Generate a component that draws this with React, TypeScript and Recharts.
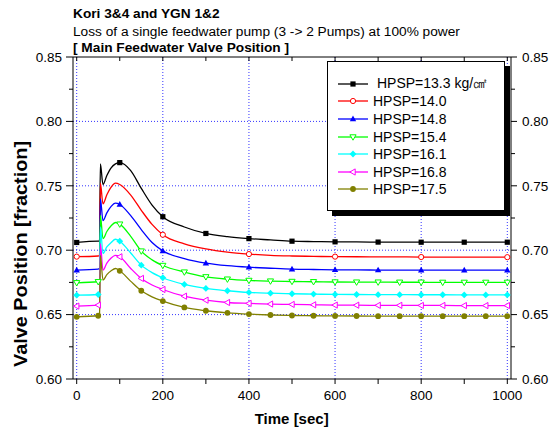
import React from 'react';
import { LineChart, Line, XAxis, YAxis, ReferenceLine, Legend } from 'recharts';

// time [sec]
const time = [0, 50, 53, 55, 61, 70, 80, 90, 100, 125, 150, 175, 200, 250, 300, 350, 400, 450, 500, 550, 600, 650, 700, 750, 800, 850, 900, 950, 1000];

// valve position [fraction], one list per HPSP setpoint
const hpsp133 = [0.706, 0.707, 0.707, 0.767, 0.751, 0.758, 0.764, 0.767, 0.768, 0.762, 0.748, 0.735, 0.726, 0.718, 0.713, 0.7105, 0.709, 0.708, 0.707, 0.7067, 0.7065, 0.7064, 0.7063, 0.7063, 0.7062, 0.7062, 0.7062, 0.7062, 0.7062];
const hpsp140 = [0.695, 0.6955, 0.696, 0.752, 0.736, 0.743, 0.749, 0.752, 0.751, 0.743, 0.731, 0.72, 0.712, 0.705, 0.701, 0.6985, 0.697, 0.696, 0.6955, 0.6952, 0.695, 0.6949, 0.6948, 0.6948, 0.6947, 0.6947, 0.6946, 0.6946, 0.6946];
const hpsp148 = [0.6845, 0.6853, 0.686, 0.74, 0.723, 0.729, 0.734, 0.7365, 0.7355, 0.727, 0.716, 0.706, 0.6995, 0.6935, 0.69, 0.688, 0.6868, 0.686, 0.6853, 0.685, 0.6848, 0.6847, 0.6846, 0.6846, 0.6845, 0.6845, 0.6845, 0.6845, 0.6845];
const hpsp154 = [0.6747, 0.6755, 0.676, 0.727, 0.709, 0.7145, 0.719, 0.7215, 0.7202, 0.711, 0.6993, 0.6925, 0.6881, 0.683, 0.6793, 0.6775, 0.6765, 0.676, 0.6757, 0.6755, 0.6753, 0.6752, 0.6752, 0.6751, 0.6751, 0.675, 0.675, 0.675, 0.675];
const hpsp161 = [0.6651, 0.6656, 0.666, 0.718, 0.6975, 0.7025, 0.706, 0.7085, 0.707, 0.698, 0.6884, 0.6826, 0.6786, 0.6734, 0.6703, 0.6685, 0.6672, 0.6666, 0.6662, 0.6659, 0.6657, 0.6656, 0.6655, 0.6655, 0.6654, 0.6654, 0.6653, 0.6653, 0.6653];
const hpsp168 = [0.6566, 0.6574, 0.658, 0.705, 0.6845, 0.69, 0.694, 0.696, 0.6949, 0.686, 0.6781, 0.673, 0.6695, 0.6643, 0.6612, 0.6594, 0.6587, 0.6582, 0.6579, 0.6576, 0.6574, 0.6573, 0.6572, 0.6572, 0.6571, 0.6571, 0.657, 0.657, 0.657];
const hpsp175 = [0.6483, 0.6491, 0.65, 0.696, 0.6768, 0.681, 0.684, 0.6858, 0.684, 0.676, 0.6685, 0.6638, 0.6605, 0.6556, 0.653, 0.6514, 0.6504, 0.6497, 0.6493, 0.6491, 0.649, 0.6489, 0.6488, 0.6488, 0.6488, 0.6488, 0.6488, 0.6488, 0.6488];

const seriesNames = ['HPSP=13.3 kg/㎠', 'HPSP=14.0', 'HPSP=14.8', 'HPSP=15.4', 'HPSP=16.1', 'HPSP=16.8', 'HPSP=17.5'];
const seriesValues = [hpsp133, hpsp140, hpsp148, hpsp154, hpsp161, hpsp168, hpsp175];
const COLORS = ['#000000', '#ff0000', '#0000ff', '#00ff00', '#00ffff', '#ff00ff', '#808000'];
const MARKERS = ['square', 'circle-open', 'tri-up', 'tri-down-open', 'diamond', 'tri-left-open', 'circle'];
const markerEvery = [100, 200, 100, 50, 50, 50, 50];

const xTicks = [0, 100, 200, 300, 400, 500, 600, 700, 800, 900, 1000];
const xGrid = [0, 200, 400, 600, 800, 1000];
const yTicks = [0.6, 0.625, 0.65, 0.675, 0.7, 0.725, 0.75, 0.775, 0.8, 0.825, 0.85];
const yGrid = [0.65, 0.7, 0.75, 0.8];

const data = time.map((t, i) => {
  const row: Record<string, number> = { t };
  seriesValues.forEach((s, k) => (row['s' + k] = s[i]));
  return row;
});

const FONT = '"Liberation Sans", Arial, sans-serif';
const isMajor = (v: number) => Math.round(v * 1000) % 50 === 0;

const Marker = ({ kind, x, y, color }: { kind: string; x: number; y: number; color: string }) => {
  switch (kind) {
    case 'square':
      return <rect x={x - 2.6} y={y - 2.6} width={5.2} height={5.2} fill={color} />;
    case 'circle-open':
      return <circle cx={x} cy={y} r={2.6} fill="#fff" stroke={color} strokeWidth={1} />;
    case 'tri-up':
      return <polygon points={`${x},${y - 3.4} ${x + 3.2},${y + 2.3} ${x - 3.2},${y + 2.3}`} fill={color} />;
    case 'tri-down-open':
      return <polygon points={`${x},${y + 3.2} ${x + 3.1},${y - 2.2} ${x - 3.1},${y - 2.2}`} fill="#fff" stroke={color} strokeWidth={1} />;
    case 'diamond':
      return <polygon points={`${x},${y - 3.4} ${x + 3.4},${y} ${x},${y + 3.4} ${x - 3.4},${y}`} fill={color} />;
    case 'tri-left-open':
      return <polygon points={`${x - 3.2},${y} ${x + 2.2},${y - 3.1} ${x + 2.2},${y + 3.1}`} fill="#fff" stroke={color} strokeWidth={1} />;
    default:
      return <circle cx={x} cy={y} r={2.9} fill={color} />;
  }
};

const makeDot = (k: number) => (props: any) => {
  const { cx, cy, payload, index } = props;
  if (payload.t % markerEvery[k] !== 0) return <g key={`d${k}-${index}`} />;
  return (
    <g key={`d${k}-${index}`}>
      <Marker kind={MARKERS[k]} x={cx} y={cy} color={COLORS[k]} />
    </g>
  );
};

const LeftTick = ({ x, y, payload }: any) => {
  const major = isMajor(payload.value);
  return (
    <g>
      <line x1={x} x2={x - (major ? 7 : 4)} y1={y} y2={y} stroke="#000" />
      {major && (
        <text x={x - 11} y={y} dy="0.35em" textAnchor="end" fontSize={13.5} fill="#000" fontFamily={FONT}>
          {payload.value.toFixed(2)}
        </text>
      )}
    </g>
  );
};

const RightTick = ({ x, y, payload }: any) => {
  const major = isMajor(payload.value);
  return (
    <g>
      <line x1={x} x2={x + (major ? 6 : 4)} y1={y} y2={y} stroke="#000" />
      {major && (
        <text x={x + 11} y={y} dy="0.35em" textAnchor="start" fontSize={13.5} fill="#000" fontFamily={FONT}>
          {payload.value.toFixed(2)}
        </text>
      )}
    </g>
  );
};

const BottomTick = ({ x, y, payload }: any) => (
  <g>
    <line x1={x} x2={x} y1={y} y2={y + 5} stroke="#000" />
    {payload.value % 200 === 0 && (
      <text x={x} y={y + 21} textAnchor="middle" fontSize={13.5} fill="#000" fontFamily={FONT}>
        {payload.value}
      </text>
    )}
  </g>
);

const TopTick = ({ x, y }: any) => <line x1={x} x2={x} y1={y} y2={y + 4} stroke="#000" />;

const LegendBox = () => (
  <div
    style={{
      width: 178,
      height: 150,
      boxSizing: 'border-box',
      border: '1px solid #000',
      background: '#fff',
      boxShadow: '5px 5px 0 #000',
      paddingTop: 13,
      fontFamily: FONT,
      fontSize: 14,
      color: '#000',
    }}
  >
    {seriesNames.map((name, k) => (
      <div key={name} style={{ display: 'flex', alignItems: 'center', height: 17.6, marginLeft: 10 }}>
        <svg width={30} height={10} style={{ flex: 'none' }}>
          <line x1={0} x2={30} y1={5} y2={5} stroke={COLORS[k]} strokeWidth={1.3} />
          <Marker kind={MARKERS[k]} x={15} y={5} color={COLORS[k]} />
        </svg>
        <span style={{ marginLeft: k === 0 ? 9 : 5, whiteSpace: 'nowrap' }}>{name}</span>
      </div>
    ))}
  </div>
);

export default function App() {
  return (
    <div style={{ position: 'absolute', left: 0, top: 0, width: 557, height: 430, background: '#fff', fontFamily: FONT }}>
      <LineChart width={557} height={430} data={data} margin={{ top: 52, right: 10, bottom: 21, left: 10 }}>
        <XAxis
          dataKey="t"
          type="number"
          domain={[-8.6, 1008.6]}
          ticks={xTicks}
          interval={0}
          tick={BottomTick}
          tickSize={0}
          tickMargin={0}
          tickLine={false}
          height={30}
          stroke="#000"
          allowDataOverflow
        />
        <XAxis
          xAxisId="top"
          orientation="top"
          dataKey="t"
          type="number"
          domain={[-8.6, 1008.6]}
          ticks={xTicks}
          interval={0}
          tick={TopTick}
          tickSize={0}
          tickMargin={0}
          tickLine={false}
          height={5}
          stroke="#000"
          allowDataOverflow
        />
        <YAxis
          type="number"
          domain={[0.6, 0.85]}
          ticks={yTicks}
          interval={0}
          tick={LeftTick}
          tickSize={0}
          tickMargin={0}
          tickLine={false}
          width={63}
          stroke="#000"
          allowDataOverflow
        />
        <YAxis
          yAxisId="right"
          orientation="right"
          type="number"
          domain={[0.6, 0.85]}
          ticks={yTicks}
          interval={0}
          tick={RightTick}
          tickSize={0}
          tickMargin={0}
          tickLine={false}
          width={36}
          stroke="#000"
          allowDataOverflow
        />
        {xGrid.map((v) => (
          <ReferenceLine key={'gx' + v} x={v} stroke="#3333ff" strokeDasharray="1 2" strokeWidth={1} />
        ))}
        {yGrid.map((v) => (
          <ReferenceLine key={'gy' + v} y={v} stroke="#3333ff" strokeDasharray="1 2" strokeWidth={1} />
        ))}
        {seriesNames.map((name, k) => (
          <Line
            key={name}
            name={name}
            dataKey={'s' + k}
            type="monotone"
            stroke={COLORS[k]}
            strokeWidth={1.3}
            dot={makeDot(k)}
            activeDot={false}
            isAnimationActive={false}
          />
        ))}
        <Legend
          layout="vertical"
          align="center"
          verticalAlign="middle"
          content={() => <LegendBox />}
          wrapperStyle={{ left: 327, top: 61, width: 178, height: 150 }}
        />
      </LineChart>
      <svg width={557} height={430} style={{ position: 'absolute', left: 0, top: 0, pointerEvents: 'none' }}>
        <g fontFamily={FONT} fill="#000">
          <text x={73} y={17.5} fontSize={13.7} fontWeight="bold">Kori 3&amp;4 and YGN 1&amp;2</text>
          <text x={73} y={36} fontSize={13.7}>Loss of a single feedwater pump (3 -&gt; 2 Pumps) at 100% power</text>
          <text x={73} y={51.7} fontSize={13.7} fontWeight="bold">[ Main Feedwater Valve Position ]</text>
          <text x={291.7} y={424} fontSize={15} fontWeight="bold" textAnchor="middle">Time [sec]</text>
          <text
            x={0}
            y={0}
            fontSize={17.5}
            fontWeight="bold"
            textAnchor="middle"
            textLength={226}
            lengthAdjust="spacingAndGlyphs"
            transform="translate(27,254) rotate(-90)"
          >
            Valve Position [fraction]
          </text>
        </g>
      </svg>
    </div>
  );
}
